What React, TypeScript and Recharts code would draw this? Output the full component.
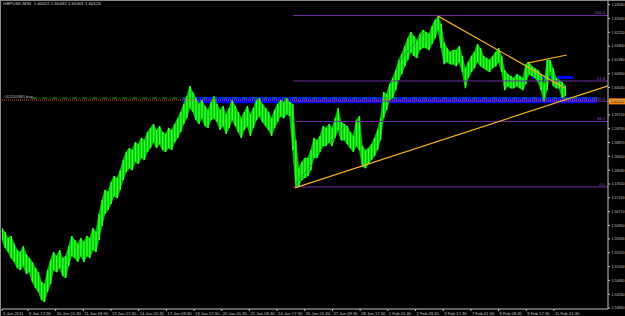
import React from "react";
import { ComposedChart, Area, Bar, XAxis, YAxis, ReferenceLine, ReferenceArea } from "recharts";

const symbolHeader = "GBPUSD,M30  1.60422 1.60432 1.60301 1.60120";
const orderLabel = "#42240381 buy";
const currentPriceText = "1.60120";
const currentPrice = 1.6012;
const barsPerSlot = 7; // each entry = 7 M30 bars

const highs = [
  1.5627, 1.5615, 1.5597, 1.5603, 1.5579, 1.556, 1.5554, 1.5572, 1.5548, 1.5536,
  1.5524, 1.5506, 1.5493, 1.5463, 1.5457, 1.5499, 1.553, 1.5554, 1.5542, 1.556,
  1.5536, 1.5542, 1.5572, 1.5603, 1.5591, 1.5579, 1.5597, 1.5585, 1.5603, 1.5597,
  1.5627, 1.5615, 1.567, 1.5712, 1.5743, 1.5737, 1.5767, 1.5785, 1.5779, 1.5803,
  1.5834, 1.5858, 1.587, 1.5864, 1.5888, 1.5882, 1.5901, 1.5894, 1.5919, 1.5931,
  1.5943, 1.5925, 1.5937, 1.5919, 1.5913, 1.5931, 1.5925, 1.5943, 1.5961, 1.598,
  1.6004, 1.6028, 1.6059, 1.604, 1.6022, 1.6004, 1.6016, 1.5998, 1.5986, 1.601,
  1.6028, 1.6004, 1.5986, 1.5998, 1.5973, 1.5992, 1.6016, 1.5998, 1.598, 1.5961,
  1.598, 1.5998, 1.5973, 1.5992, 1.6016, 1.6022, 1.6004, 1.5992, 1.598, 1.5961,
  1.5986, 1.6004, 1.6016, 1.601, 1.6022, 1.601, 1.6004, 1.5894, 1.5809, 1.5828,
  1.584, 1.584, 1.5864, 1.5901, 1.5894, 1.5907, 1.5937, 1.5931, 1.5943, 1.5931,
  1.5961, 1.5992, 1.5949, 1.5943, 1.5937, 1.5919, 1.5907, 1.5955, 1.5967, 1.5876,
  1.5864, 1.587, 1.5882, 1.5901, 1.5925, 1.5961, 1.604, 1.6034, 1.6065, 1.6083,
  1.6107, 1.6138, 1.6156, 1.618, 1.6204, 1.6223, 1.6211, 1.6198, 1.6217, 1.6229,
  1.6223, 1.6217, 1.6241, 1.6259, 1.6271, 1.6247, 1.6192, 1.6174, 1.6162, 1.6168,
  1.6168, 1.618, 1.615, 1.6113, 1.6132, 1.615, 1.6162, 1.6186, 1.6174, 1.615,
  1.6144, 1.6138, 1.615, 1.6162, 1.6174, 1.615, 1.6107, 1.6095, 1.6089, 1.6083,
  1.6095, 1.6089, 1.6083, 1.6125, 1.6132, 1.6119, 1.6113, 1.6107, 1.6095, 1.6065,
  1.6138, 1.6138, 1.6113, 1.6083, 1.6077, 1.6071, 1.6059,
];

const lows = [
  1.5591, 1.5566, 1.5554, 1.5536, 1.5524, 1.5506, 1.5499, 1.5512, 1.5487, 1.5493,
  1.5463, 1.5445, 1.5433, 1.5408, 1.5402, 1.5433, 1.5457, 1.5499, 1.5493, 1.5506,
  1.5481, 1.5475, 1.5512, 1.5542, 1.5536, 1.5524, 1.5542, 1.5524, 1.5542, 1.5536,
  1.556, 1.5554, 1.5591, 1.5633, 1.567, 1.5682, 1.57, 1.5724, 1.5718, 1.5743,
  1.5773, 1.5797, 1.5809, 1.5803, 1.5828, 1.5822, 1.584, 1.5834, 1.5858, 1.587,
  1.5888, 1.587, 1.5882, 1.5864, 1.5858, 1.587, 1.5864, 1.5888, 1.5901, 1.5919,
  1.5943, 1.5961, 1.5992, 1.598, 1.5955, 1.5943, 1.5961, 1.5937, 1.5931, 1.5955,
  1.5961, 1.5949, 1.5925, 1.5937, 1.5913, 1.5931, 1.5955, 1.5937, 1.5919, 1.5901,
  1.5925, 1.5937, 1.5907, 1.5931, 1.5955, 1.5967, 1.5949, 1.5937, 1.5925, 1.5907,
  1.5931, 1.5949, 1.5967, 1.5961, 1.5973, 1.5967, 1.5864, 1.5749, 1.5755, 1.5773,
  1.5779, 1.5785, 1.5803, 1.584, 1.584, 1.5858, 1.5876, 1.5876, 1.5888, 1.5876,
  1.5901, 1.5925, 1.5894, 1.5894, 1.5882, 1.587, 1.5858, 1.5876, 1.5864, 1.5815,
  1.5809, 1.5822, 1.5834, 1.5846, 1.5864, 1.5894, 1.5961, 1.5986, 1.6016, 1.6022,
  1.6046, 1.6077, 1.6095, 1.6119, 1.6138, 1.6162, 1.615, 1.6144, 1.6168, 1.6174,
  1.6174, 1.6168, 1.6186, 1.6204, 1.6229, 1.6174, 1.6125, 1.6132, 1.6125, 1.6125,
  1.6119, 1.6132, 1.6101, 1.6052, 1.6083, 1.6101, 1.6113, 1.6132, 1.6119, 1.6113,
  1.6107, 1.6101, 1.6113, 1.6119, 1.6132, 1.6101, 1.6046, 1.6059, 1.6052, 1.6052,
  1.6059, 1.6052, 1.6046, 1.6065, 1.6095, 1.6089, 1.6083, 1.6071, 1.6046, 1.601,
  1.6046, 1.6101, 1.6059, 1.6052, 1.6052, 1.6022, 1.6028,
];

const timeLabels = [
  "5 Jan 2011", "6 Jan 17:30", "10 Jan 01:30", "11 Jan 09:30", "12 Jan 17:30",
  "14 Jan 01:30", "17 Jan 09:30", "18 Jan 17:30", "20 Jan 01:30", "21 Jan 09:30",
  "24 Jan 17:30", "26 Jan 01:30", "27 Jan 09:30", "28 Jan 17:30", "1 Feb 01:30",
  "2 Feb 09:30", "3 Feb 17:30", "7 Feb 01:30", "8 Feb 09:30", "9 Feb 17:30",
  "11 Feb 01:30",
];
const timeLabelBars = [
  0, 60, 124, 188, 252, 316, 380, 444, 508, 572, 636, 700, 764, 828, 892, 956,
  1020, 1084, 1148, 1212, 1276,
];

const priceTicks = [
  1.5384, 1.5426, 1.5468, 1.551, 1.5552, 1.5594, 1.5635, 1.5677, 1.5719, 1.5761,
  1.5803, 1.5845, 1.5887, 1.5929, 1.5971, 1.6013, 1.6054, 1.6096, 1.6138, 1.618,
  1.6222, 1.6264, 1.6306,
];

const lastBar = 1401;

// Fibonacci retracement (24 Jan low -> 3 Feb high)
const fibStartBar = 673;
const fibEndBar = 1008;
const fibLow = 1.5752;
const fibHigh = 1.6273;
const fibLevels = [0, 38.2, 50, 61.8, 100];

// Trend lines [bar1, price1, bar2, price2]
const trendLines = [
  [677, 1.5749, 1401, 1.6059],
  [1008, 1.6271, 1302, 1.6052],
  [1214, 1.6128, 1306, 1.6153],
];

// Order / TP lines
const orderPrice = 1.6016;
const targetPrice = 1.6022;
const zoneBand = { x1: 418, x2: 1376, y1: 1.6006, y2: 1.6025 };
const smallBand = { x1: 1225, x2: 1320, y1: 1.608, y2: 1.6089 };

const data = highs.map((h, i) => ({ bar: i * barsPerSlot, range: [lows[i], h] }));

const FONT = "'Liberation Sans', Arial, sans-serif";
const AXIS = "#c0c0c0";
const PURPLE = "#6a2c9e";
const GOLD = "#f2ae1c";

const XTick = (props: any) => {
  const { x, y, payload } = props;
  const i = timeLabelBars.indexOf(payload.value);
  return (
    <text x={x + 1} y={y + 4} fontSize={4.2} fontFamily={FONT} fill={AXIS} textAnchor="start">
      {i >= 0 ? timeLabels[i] : ""}
    </text>
  );
};

const YTick = (props: any) => {
  const { x, y, payload } = props;
  return (
    <text x={x} y={y + 1.4} fontSize={3.6} fontFamily={FONT} fill={AXIS} textAnchor="start">
      {payload.value.toFixed(5)}
    </text>
  );
};

const fibLabel = (text: string) => (props: any) => {
  const vb = props.viewBox || {};
  return (
    <text x={vb.x + vb.width - 3} y={vb.y - 1} fontSize={4.2} fontFamily={FONT} fill="#8a4cc4" textAnchor="end">
      {text}
    </text>
  );
};

const priceBox = (props: any) => {
  const vb = props.viewBox || {};
  const bx = vb.x + vb.width + 1;
  return (
    <g>
      <rect x={bx} y={vb.y - 3} width={16} height={6} fill="#ff8c00" />
      <text x={bx + 2} y={vb.y + 1.4} fontSize={3.6} fontFamily={FONT} fill="#000">
        {currentPriceText}
      </text>
    </g>
  );
};

const orderText = (props: any) => {
  const vb = props.viewBox || {};
  return (
    <text x={vb.x + 2} y={vb.y - 2.5} fontSize={4.2} fontFamily={FONT} fill="#bdbdbd">
      {orderLabel}
    </text>
  );
};

export default function App() {
  return (
    <div
      style={{
        position: "absolute",
        left: 0,
        top: 0,
        width: 625,
        height: 316,
        background: "#000",
        overflow: "hidden",
      }}
    >
      <ComposedChart
        width={625}
        height={316}
        data={data}
        margin={{ top: 1, right: 0, bottom: 0, left: 2 }}
      >
        <XAxis
          dataKey="bar"
          type="number"
          domain={[0, lastBar]}
          ticks={timeLabelBars}
          interval={0}
          height={7}
          tick={<XTick />}
          tickSize={2}
          tickMargin={0}
          axisLine={{ stroke: AXIS }}
          tickLine={{ stroke: AXIS }}
          allowDataOverflow
        />
        <YAxis
          orientation="right"
          type="number"
          domain={[1.5381, 1.6317]}
          ticks={priceTicks}
          interval={0}
          width={17}
          tick={<YTick />}
          tickSize={2}
          tickMargin={1.5}
          axisLine={{ stroke: AXIS }}
          tickLine={{ stroke: AXIS }}
          allowDataOverflow
        />
        <ReferenceArea
          x1={zoneBand.x1}
          x2={zoneBand.x2}
          y1={zoneBand.y1}
          y2={zoneBand.y2}
          fill="#0000ff"
          fillOpacity={1}
          stroke="none"
        />
        <ReferenceArea
          x1={smallBand.x1}
          x2={smallBand.x2}
          y1={smallBand.y1}
          y2={smallBand.y2}
          fill="#0000ff"
          fillOpacity={1}
          stroke="none"
        />
        {fibLevels.map((lv) => {
          const p = fibLow + ((fibHigh - fibLow) * lv) / 100;
          return (
            <ReferenceLine
              key={"fib" + lv}
              segment={[
                { x: fibStartBar, y: p },
                { x: lastBar, y: p },
              ]}
              stroke={PURPLE}
              strokeWidth={1}
              label={fibLabel(lv.toFixed(1))}
            />
          );
        })}
        <ReferenceLine
          segment={[
            { x: fibStartBar, y: fibLow },
            { x: fibEndBar, y: fibHigh },
          ]}
          stroke="#1c1c88"
          strokeDasharray="1 2"
        />
        <ReferenceLine
          segment={[
            { x: 70, y: targetPrice },
            { x: zoneBand.x2, y: targetPrice },
          ]}
          stroke="#1fa01f"
          strokeDasharray="5 2 1 2"
        />
        <ReferenceLine
          segment={[
            { x: 0, y: orderPrice },
            { x: zoneBand.x2, y: orderPrice },
          ]}
          stroke="#e0522a"
          strokeDasharray="1 1"
          label={orderText}
        />
        <Area
          dataKey="range"
          type="linear"
          fill="#00c400"
          fillOpacity={1}
          stroke="#00dd00"
          strokeWidth={0.6}
          isAnimationActive={false}
          dot={false}
          activeDot={false}
        />
        <Bar dataKey="range" fill="#33ff33" barSize={1.4} isAnimationActive={false} />
        {trendLines.map((t, i) => (
          <ReferenceLine
            key={"tl" + i}
            segment={[
              { x: t[0], y: t[1] },
              { x: t[2], y: t[3] },
            ]}
            stroke={GOLD}
            strokeWidth={1.2}
          />
        ))}
        <ReferenceLine
          segment={[
            { x: 0, y: currentPrice },
            { x: lastBar, y: currentPrice },
          ]}
          stroke="none"
          label={priceBox}
        />
      </ComposedChart>
      <div
        style={{
          position: "absolute",
          left: 0,
          top: 0,
          width: 625,
          height: 316,
          boxSizing: "border-box",
          borderLeft: "1px solid #8a8a8a",
          borderTop: "1px solid #8a8a8a",
          pointerEvents: "none",
        }}
      />
      <div
        style={{
          position: "absolute",
          left: 3,
          top: 1,
          fontFamily: FONT,
          fontSize: 4.4,
          lineHeight: "6px",
          color: "#d0d0d0",
          whiteSpace: "pre",
        }}
      >
        {symbolHeader}
      </div>
    </div>
  );
}
